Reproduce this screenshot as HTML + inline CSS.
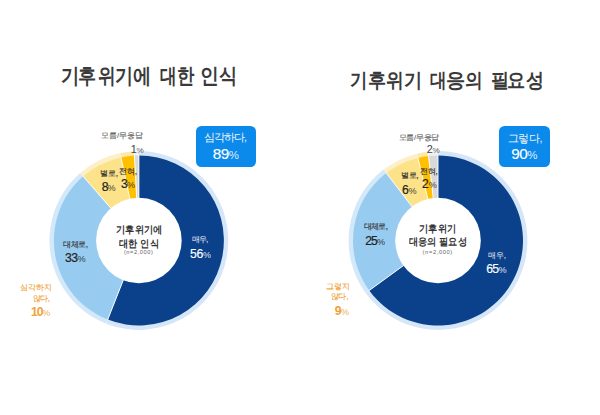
<!DOCTYPE html>
<html><head><meta charset="utf-8">
<style>
html,body{margin:0;padding:0;background:#fff;}
body{width:600px;height:415px;position:relative;overflow:hidden;font-family:"Liberation Sans",sans-serif;}
svg{position:absolute;left:0;top:0;}
.t{position:absolute;white-space:nowrap;line-height:1;}
.title{font-weight:bold;color:#3a3a3a;transform:scaleX(0.9);transform-origin:0 0;}
.ctr{font-weight:bold;color:#333;transform:scaleX(0.92);transform-origin:0 0;}
.n{color:#666;}
.lab{color:#333;-webkit-text-stroke:0.15px currentColor;}
.num{color:#222;-webkit-text-stroke:0.2px currentColor;}
.num small{font-size:0.75em;-webkit-text-stroke:0;opacity:0.85;}
.g{color:#5e5e5e;-webkit-text-stroke:0.1px currentColor;}
.w{color:#fff;}
.or{color:#f0a238;}
.box{position:absolute;background:#0b8aec;border-radius:5.5px;}
.lab.w{-webkit-text-stroke:0;color:#f2f5fa;}
.num.w{-webkit-text-stroke:0.15px currentColor;}
.lab.or{-webkit-text-stroke:0.1px currentColor;}
.g2{color:#444;-webkit-text-stroke:0.05px currentColor;}
.num.or{font-weight:bold;-webkit-text-stroke:0;}
.num.or small{font-weight:normal;}


</style></head><body>
<svg width="600" height="415" viewBox="0 0 600 415"><path d="M138.90 151.10A89.4 89.4 0 1 1 106.13 323.68L107.93 319.12A84.5 84.5 0 1 0 138.90 156.00Z" fill="#d4e6f7"/>
<path d="M106.13 323.68A89.4 89.4 0 0 1 80.25 173.03L83.46 176.73A84.5 84.5 0 0 0 107.93 319.12Z" fill="#d3e8f8"/>
<path d="M80.25 173.03A89.4 89.4 0 0 1 120.01 153.12L121.04 157.91A84.5 84.5 0 0 0 83.46 176.73Z" fill="#fdf0c8"/>
<path d="M120.01 153.12A89.4 89.4 0 0 1 134.22 151.22L134.48 156.12A84.5 84.5 0 0 0 121.04 157.91Z" fill="#fde9b0"/>
<path d="M134.22 151.22A89.4 89.4 0 0 1 138.90 151.10L138.90 156.00A84.5 84.5 0 0 0 134.48 156.12Z" fill="#f0f0f0"/>
<path d="M138.90 155.50A85 85 0 1 1 107.75 319.59L123.58 279.39A41.8 41.8 0 1 0 138.90 198.70Z" fill="#0b408a"/>
<path d="M107.75 319.59A85 85 0 0 1 83.13 176.35L111.48 208.95A41.8 41.8 0 0 0 123.58 279.39Z" fill="#97cbf0"/>
<path d="M83.13 176.35A85 85 0 0 1 120.94 157.42L130.07 199.64A41.8 41.8 0 0 0 111.48 208.95Z" fill="#fce288"/>
<path d="M120.94 157.42A85 85 0 0 1 134.45 155.62L136.71 198.76A41.8 41.8 0 0 0 130.07 199.64Z" fill="#ffc000"/>
<path d="M134.45 155.62A85 85 0 0 1 138.90 155.50L138.90 198.70A41.8 41.8 0 0 0 136.71 198.76Z" fill="#d9d9d9"/>
<line x1="138.90" y1="199.70" x2="138.90" y2="155.00" stroke="#fff" stroke-width="0.9"/>
<line x1="123.95" y1="278.46" x2="107.56" y2="320.05" stroke="#fff" stroke-width="0.9"/>
<line x1="112.13" y1="209.71" x2="82.81" y2="175.97" stroke="#fff" stroke-width="0.9"/>
<line x1="130.28" y1="200.62" x2="120.83" y2="156.93" stroke="#fff" stroke-width="0.9"/>
<line x1="136.76" y1="199.76" x2="134.43" y2="155.12" stroke="#fff" stroke-width="0.9"/>
<circle cx="138.9" cy="240.5" r="42.8" fill="#fff"/><path d="M438.00 151.10A89.4 89.4 0 1 1 365.67 293.05L369.64 290.17A84.5 84.5 0 1 0 438.00 156.00Z" fill="#d4e6f7"/>
<path d="M365.67 293.05A89.4 89.4 0 0 1 383.58 169.57L386.56 173.46A84.5 84.5 0 0 0 369.64 290.17Z" fill="#d3e8f8"/>
<path d="M383.58 169.57A89.4 89.4 0 0 1 416.83 153.64L417.99 158.40A84.5 84.5 0 0 0 386.56 173.46Z" fill="#fdf0c8"/>
<path d="M416.83 153.64A89.4 89.4 0 0 1 428.03 151.66L428.58 156.53A84.5 84.5 0 0 0 417.99 158.40Z" fill="#fde9b0"/>
<path d="M428.03 151.66A89.4 89.4 0 0 1 438.00 151.10L438.00 156.00A84.5 84.5 0 0 0 428.58 156.53Z" fill="#f0f0f0"/>
<path d="M438.00 155.50A85 85 0 1 1 369.23 290.46L404.18 265.07A41.8 41.8 0 1 0 438.00 198.70Z" fill="#0b408a"/>
<path d="M369.23 290.46A85 85 0 0 1 386.26 173.06L412.55 207.34A41.8 41.8 0 0 0 404.18 265.07Z" fill="#97cbf0"/>
<path d="M386.26 173.06A85 85 0 0 1 417.87 157.92L428.10 199.89A41.8 41.8 0 0 0 412.55 207.34Z" fill="#fce288"/>
<path d="M417.87 157.92A85 85 0 0 1 428.53 156.03L433.34 198.96A41.8 41.8 0 0 0 428.10 199.89Z" fill="#ffc000"/>
<path d="M428.53 156.03A85 85 0 0 1 438.00 155.50L438.00 198.70A41.8 41.8 0 0 0 433.34 198.96Z" fill="#d9d9d9"/>
<line x1="438.00" y1="199.70" x2="438.00" y2="155.00" stroke="#fff" stroke-width="0.9"/>
<line x1="404.99" y1="264.48" x2="368.83" y2="290.76" stroke="#fff" stroke-width="0.9"/>
<line x1="413.16" y1="208.13" x2="385.95" y2="172.67" stroke="#fff" stroke-width="0.9"/>
<line x1="428.34" y1="200.86" x2="417.75" y2="157.43" stroke="#fff" stroke-width="0.9"/>
<line x1="433.45" y1="199.95" x2="428.47" y2="155.53" stroke="#fff" stroke-width="0.9"/>
<circle cx="438" cy="240.5" r="42.8" fill="#fff"/></svg>
<div class="box" style="left:196px;top:125.7px;width:60.4px;height:41.6px;"></div>
<div class="box" style="left:499.3px;top:125.7px;width:50.4px;height:41.6px;"></div>
<div id="tL0" class="t title" style="left:61.39px;top:65.08px;font-size:21.13px;transform:scaleX(0.872);">기</div>
<div id="tL1" class="t title" style="left:78.41px;top:65.08px;font-size:21.13px;transform:scaleX(0.862);">후</div>
<div id="tL2" class="t title" style="left:97.64px;top:65.08px;font-size:21.13px;transform:scaleX(0.846);">위</div>
<div id="tL3" class="t title" style="left:114.67px;top:65.08px;font-size:21.13px;transform:scaleX(0.860);">기</div>
<div id="tL4" class="t title" style="left:132.51px;top:65.08px;font-size:21.13px;transform:scaleX(0.865);">에</div>
<div id="tL5" class="t title" style="left:159.63px;top:65.08px;font-size:21.13px;transform:scaleX(0.794);">대</div>
<div id="tL6" class="t title" style="left:176.76px;top:65.08px;font-size:21.13px;transform:scaleX(0.826);">한</div>
<div id="tL7" class="t title" style="left:200.36px;top:65.08px;font-size:21.13px;transform:scaleX(0.897);">인</div>
<div id="tL8" class="t title" style="left:218.74px;top:65.08px;font-size:21.13px;transform:scaleX(0.866);">식</div>
<div id="tR0" class="t title" style="left:350.30px;top:69.68px;font-size:20.49px;transform:scaleX(0.869);">기</div>
<div id="tR1" class="t title" style="left:367.64px;top:69.68px;font-size:20.49px;transform:scaleX(0.905);">후</div>
<div id="tR2" class="t title" style="left:385.91px;top:69.68px;font-size:20.49px;transform:scaleX(0.890);">위</div>
<div id="tR3" class="t title" style="left:403.76px;top:69.68px;font-size:20.49px;transform:scaleX(0.909);">기</div>
<div id="tR4" class="t title" style="left:429.68px;top:69.68px;font-size:20.49px;transform:scaleX(0.825);">대</div>
<div id="tR5" class="t title" style="left:445.84px;top:69.68px;font-size:20.49px;transform:scaleX(0.959);">응</div>
<div id="tR6" class="t title" style="left:465.06px;top:69.68px;font-size:20.49px;transform:scaleX(0.890);">의</div>
<div id="tR7" class="t title" style="left:490.53px;top:69.68px;font-size:20.49px;transform:scaleX(0.904);">필</div>
<div id="tR8" class="t title" style="left:507.24px;top:69.68px;font-size:20.49px;transform:scaleX(0.905);">요</div>
<div id="tR9" class="t title" style="left:525.97px;top:69.68px;font-size:20.49px;transform:scaleX(0.900);">성</div>
<div id="cL1" class="t ctr" style="left:115.78px;top:224.70px;font-size:9.90px;letter-spacing:0.12px;">기후위기에</div>
<div id="cL2" class="t ctr" style="left:118.98px;top:238.74px;font-size:9.90px;letter-spacing:0.17px;">대한 인식</div>
<div id="nL" class="t n" style="left:123.88px;top:250.12px;font-size:5.70px;letter-spacing:0.56px;">(n=2,000)</div>
<div id="mL" class="t lab g" style="left:101.11px;top:131.67px;font-size:7.70px;letter-spacing:-0.06px;">모름/무응답</div>
<div id="pL1" class="t num g2" style="left:130.72px;top:143.50px;font-size:10.80px;letter-spacing:-0.35px;">1<small>%</small></div>
<div id="bL1" class="t lab w" style="left:204.21px;top:131.98px;font-size:10.60px;letter-spacing:-1.04px;">심각하다,</div>
<div id="bL2" class="t num w" style="left:212.74px;top:145.69px;font-size:15.30px;letter-spacing:-0.55px;">89<small>%</small></div>
<div id="yL1" class="t lab" style="left:100.25px;top:169.40px;font-size:8.40px;letter-spacing:-0.23px;">별로,</div>
<div id="yL2" class="t num" style="left:101.87px;top:181.48px;font-size:12.20px;letter-spacing:-1.20px;">8<small>%</small></div>
<div id="zL1" class="t lab" style="left:118.99px;top:167.48px;font-size:8.40px;letter-spacing:-0.09px;">전혀,</div>
<div id="zL2" class="t num" style="left:121.10px;top:178.21px;font-size:12.20px;letter-spacing:-0.95px;">3<small>%</small></div>
<div id="lL1" class="t lab" style="left:63.10px;top:240.29px;font-size:8.40px;letter-spacing:-0.44px;">대체로,</div>
<div id="lL2" class="t num" style="left:65.10px;top:252.12px;font-size:12.20px;letter-spacing:-0.64px;">33<small>%</small></div>
<div id="dL1" class="t lab w" style="left:191.71px;top:235.16px;font-size:8.40px;letter-spacing:-0.79px;">매우,</div>
<div id="dL2" class="t num w" style="left:189.97px;top:247.75px;font-size:12.20px;letter-spacing:-0.29px;">56<small>%</small></div>
<div id="oL1" class="t lab or" style="left:19.90px;top:283.25px;font-size:8.40px;letter-spacing:-0.09px;">심각하지</div>
<div id="oL2" class="t lab or" style="left:32.97px;top:293.94px;font-size:8.40px;letter-spacing:-0.57px;">않다,</div>
<div id="oL3" class="t num or" style="left:31.02px;top:306.44px;font-size:12.20px;letter-spacing:-1.13px;">10<small>%</small></div>
<div id="cR1" class="t ctr" style="left:418.98px;top:224.44px;font-size:9.90px;letter-spacing:0.18px;">기후위기</div>
<div id="cR2" class="t ctr" style="left:408.88px;top:237.34px;font-size:9.90px;">대응의 필요성</div>
<div id="nR" class="t n" style="left:422.55px;top:250.11px;font-size:5.70px;letter-spacing:0.65px;">(n=2,000)</div>
<div id="mR" class="t lab g" style="left:398.61px;top:133.67px;font-size:7.70px;letter-spacing:-0.26px;">모름/무응답</div>
<div id="pR1" class="t num g2" style="left:426.82px;top:144.40px;font-size:10.80px;letter-spacing:-0.39px;">2<small>%</small></div>
<div id="bR1" class="t lab w" style="left:507.53px;top:132.54px;font-size:10.60px;letter-spacing:-0.33px;">그렇다,</div>
<div id="bR2" class="t num w" style="left:511.20px;top:145.64px;font-size:15.30px;letter-spacing:-0.45px;">90<small>%</small></div>
<div id="yR1" class="t lab" style="left:400.85px;top:171.10px;font-size:8.40px;letter-spacing:-0.26px;">별로,</div>
<div id="yR2" class="t num" style="left:402.06px;top:183.86px;font-size:12.20px;letter-spacing:-0.27px;">6<small>%</small></div>
<div id="zR1" class="t lab" style="left:420.39px;top:166.68px;font-size:8.40px;letter-spacing:-0.43px;">전혀,</div>
<div id="zR2" class="t num" style="left:422.03px;top:178.42px;font-size:12.20px;letter-spacing:-0.10px;">2<small>%</small></div>
<div id="lR1" class="t lab" style="left:363.60px;top:222.09px;font-size:8.40px;letter-spacing:-0.58px;">대체로,</div>
<div id="lR2" class="t num" style="left:365.19px;top:234.85px;font-size:12.20px;letter-spacing:-0.89px;">25<small>%</small></div>
<div id="dR1" class="t lab w" style="left:487.81px;top:251.16px;font-size:8.40px;letter-spacing:-0.03px;">매우,</div>
<div id="dR2" class="t num w" style="left:486.13px;top:263.45px;font-size:12.20px;letter-spacing:-0.57px;">65<small>%</small></div>
<div id="oR1" class="t lab or" style="left:325.70px;top:282.05px;font-size:8.40px;letter-spacing:0.17px;">그렇지</div>
<div id="oR2" class="t lab or" style="left:330.77px;top:291.64px;font-size:8.40px;letter-spacing:-0.28px;">않다,</div>
<div id="oR3" class="t num or" style="left:334.63px;top:305.42px;font-size:12.20px;letter-spacing:-0.54px;">9<small>%</small></div>
</body></html>
